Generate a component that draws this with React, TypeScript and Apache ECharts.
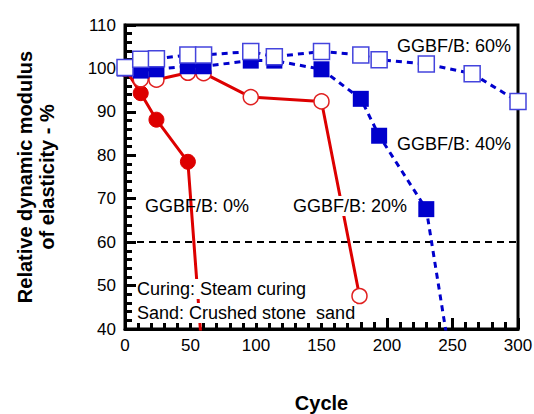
import React, { useEffect, useRef } from "react";
import * as echarts from "echarts";

// Data (cycles / relative dynamic modulus %)
const ggbf0Cycles = [0, 12, 24, 48, 60];
const ggbf0Values = [100, 94.3, 88.2, 78.5, 30];
const ggbf20Cycles = [0, 12, 24, 48, 60, 96, 150, 179];
const ggbf20Values = [100, 97.5, 97.4, 99, 98.9, 93.4, 92.4, 47.6];
const ggbf40Cycles = [0, 12, 24, 48, 60, 96, 114, 150, 180, 194, 230, 250];
const ggbf40Values = [100, 99.5, 99.8, 100.5, 100.5, 101.8, 101.8, 99.8, 93, 84.5, 67.6, 30];
const ggbf60Cycles = [0, 12, 24, 48, 60, 96, 114, 150, 180, 194, 230, 265, 300];
const ggbf60Values = [100.2, 102.1, 102.2, 103.1, 103.1, 103.9, 102.7, 103.9, 103.1, 102, 101, 98.8, 92.4];
const thresholdValue = 60;

const xTicks = { min: 0, max: 300, interval: 50 };
const yTicks = { min: 40, max: 110, interval: 10 };

const FONT = "'Liberation Sans', Arial, sans-serif";
const RED = "#dd0000";
const BLUE = "#0000cc";

const zip = (xs: number[], ys: number[]) => xs.map((x, i) => [x, ys[i]]);

export default function App() {
  const ref = useRef<HTMLDivElement>(null);
  useEffect(() => {
    if (!ref.current) return;
    document.body.style.margin = "0";
    const chart = echarts.init(ref.current, null, { renderer: "svg" });
    const axisCommon = {
      z: 10,
      axisLine: { show: true, onZero: false, lineStyle: { color: "#000", width: 3 } },
      axisTick: { show: true, inside: true, length: 11, lineStyle: { color: "#000", width: 3 } },
      minorTick: { show: true, splitNumber: 5, length: 7, lineStyle: { color: "#000", width: 3 } },
      splitLine: { show: false },
      axisLabel: { color: "#000", fontSize: 17, fontFamily: FONT },
      nameTextStyle: { color: "#000", fontSize: 20, fontWeight: "bold", fontFamily: FONT },
    };
    const textEl = (text: string, x: number, y: number, bg?: boolean) => ({
      type: "text",
      x,
      y,
      z: 100,
      style: {
        text,
        fill: "#000",
        font: `18px ${FONT}`,
        textVerticalAlign: "middle",
        backgroundColor: bg ? "#fff" : undefined,
        padding: bg ? [1, 1] : 0,
      },
    });
    chart.setOption({
      animation: false,
      backgroundColor: "#fff",
      grid: {
        left: 125,
        right: 16,
        top: 25,
        bottom: 85,
        show: true,
        backgroundColor: "transparent",
        borderColor: "#000",
        borderWidth: 3,
        containLabel: false,
        outerBoundsMode: "none",
      },
      xAxis: {
        type: "value",
        ...xTicks,
        ...axisCommon,
        axisLabel: { ...axisCommon.axisLabel, margin: 8 },
        name: "Cycle",
        nameLocation: "middle",
        nameGap: 63,
        nameTextStyle: { ...axisCommon.nameTextStyle, lineHeight: 22 },
      },
      yAxis: {
        type: "value",
        ...yTicks,
        ...axisCommon,
        axisLabel: { ...axisCommon.axisLabel, margin: 9 },
        name: "Relative dynamic modulus\nof elasticity - %",
        nameLocation: "middle",
        nameGap: 67,
        nameTextStyle: { ...axisCommon.nameTextStyle, lineHeight: 22 },
      },
      series: [
        {
          name: "GGBF/B: 0%",
          type: "line",
          data: zip(ggbf0Cycles, ggbf0Values),
          clip: true,
          symbol: "circle",
          symbolSize: 15,
          lineStyle: { color: RED, width: 3 },
          itemStyle: { color: RED, borderColor: RED, borderWidth: 1 },
          z: 11,
          markLine: {
            silent: true,
            symbol: ["none", "none"],
            label: { show: false },
            lineStyle: { color: "#000", width: 2, type: [7, 5] },
            data: [{ yAxis: thresholdValue }],
          },
        },
        {
          name: "GGBF/B: 20%",
          type: "line",
          data: zip(ggbf20Cycles, ggbf20Values),
          clip: true,
          symbol: "circle",
          symbolSize: 15,
          lineStyle: { color: RED, width: 3 },
          itemStyle: { color: "#fff", borderColor: "#e02020", borderWidth: 1.5 },
          z: 12,
        },
        {
          name: "GGBF/B: 40%",
          type: "line",
          data: zip(ggbf40Cycles, ggbf40Values),
          clip: true,
          symbol: "rect",
          symbolSize: 16,
          lineStyle: { color: BLUE, width: 3, type: [6, 5] },
          itemStyle: { color: BLUE, borderColor: BLUE, borderWidth: 0 },
          z: 13,
        },
        {
          name: "GGBF/B: 60%",
          type: "line",
          data: zip(ggbf60Cycles, ggbf60Values),
          clip: false,
          symbol: "rect",
          symbolSize: 16,
          lineStyle: { color: BLUE, width: 3, type: [6, 5] },
          itemStyle: { color: "#fff", borderColor: "#4444dd", borderWidth: 1.5 },
          z: 14,
        },
      ],
      graphic: [
        textEl("GGBF/B: 60%", 397, 46),
        textEl("GGBF/B: 40%", 397, 144),
        textEl("GGBF/B: 0%", 145, 206),
        textEl("GGBF/B: 20%", 292, 206, true),
        textEl("Curing: Steam curing", 136, 289, true),
        textEl("Sand: Crushed stone  sand", 136, 313, true),
      ],
    });
    return () => chart.dispose();
  }, []);
  return (
    <div
      ref={ref}
      style={{ width: 534, height: 414, position: "absolute", left: 0, top: 0 }}
    />
  );
}
